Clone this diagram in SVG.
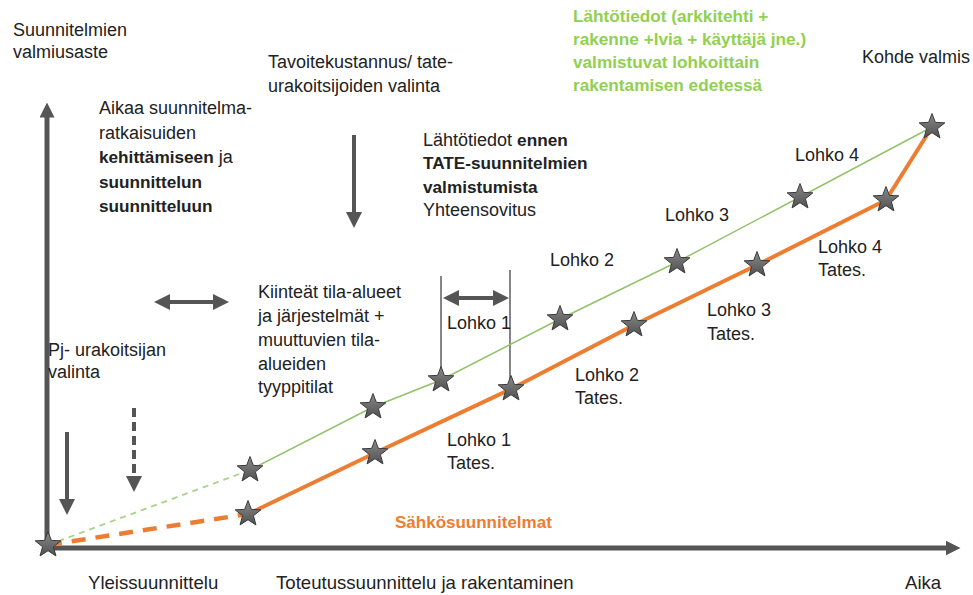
<svg xmlns="http://www.w3.org/2000/svg" width="973" height="595" viewBox="0 0 973 595">
<style>
text{font-family:"Liberation Sans",Arial,sans-serif;font-size:18px;fill:#222}
.b{font-weight:bold;font-size:17.2px}
.g{fill:#92D050;font-weight:bold;font-size:17.2px}
.o{fill:#ED7D31;font-weight:bold;font-size:17px}
.big{font-size:18.6px}
.ax{stroke:#555;stroke-width:5;fill:none}
.ar{stroke:#555;stroke-width:4;fill:none}
.thin{stroke:#444;stroke-width:1.3;fill:none}
</style>
<defs>
<linearGradient id="sg" x1="0" y1="0" x2="0" y2="1">
<stop offset="0" stop-color="#8a8a8a"/><stop offset="1" stop-color="#505050"/>
</linearGradient>
<symbol id="star" overflow="visible">
<polygon points="0,-13.5 3.36,-4.62 12.84,-4.17 5.43,1.77 7.94,10.92 0,5.7 -7.94,10.92 -5.43,1.77 -12.84,-4.17 -3.36,-4.62" fill="url(#sg)" stroke="#3a3a3a" stroke-width="1" stroke-linejoin="round"/>
</symbol>
<marker id="ah" markerWidth="4" markerHeight="4" refX="2" refY="2" orient="auto" markerUnits="strokeWidth" viewBox="0 0 4 4">
<path d="M0,0 L4,2 L0,4 Z" fill="#555"/>
</marker>
<marker id="axh" markerWidth="3" markerHeight="3" refX="1.5" refY="1.5" orient="auto" markerUnits="strokeWidth" viewBox="0 0 3 3">
<path d="M0,0 L3,1.5 L0,3 Z" fill="#555"/>
</marker>
<marker id="ah2" markerWidth="4" markerHeight="4" refX="2" refY="2" orient="auto-start-reverse" markerUnits="strokeWidth" viewBox="0 0 4 4">
<path d="M0,0 L4,2 L0,4 Z" fill="#555"/>
</marker>
</defs>
<rect width="973" height="595" fill="#fff"/>

<g id="connectors">
<path class="ax" d="M47,548 V110" marker-end="url(#axh)"/>
<path class="ax" d="M47,548 H953" marker-end="url(#axh)"/>
<path class="ar" d="M354,135 V220" marker-end="url(#ah)"/>
<path class="ar" stroke-width="3" d="M162,302 H221" marker-start="url(#ah2)" marker-end="url(#ah2)"/>
<path class="ar" d="M67,432 V507" marker-end="url(#ah)"/>
<path class="ar" d="M134,408 V484" stroke-dasharray="9,5" marker-end="url(#ah)"/>
<path class="ar" stroke-width="2.5" d="M451,298 H501" marker-start="url(#ah2)" marker-end="url(#ah2)"/>
<path class="thin" d="M441,276 V380"/>
<path class="thin" d="M510,270 V389"/>
<path d="M48,545 L250,470" stroke="#A9D18E" stroke-width="1.8" stroke-dasharray="6,5" fill="none"/>
<path d="M250,470 L373,407 L441,380 L560,319 L677,262 L800,197 L932,127" stroke="#92C36A" stroke-width="1.5" fill="none"/>
<path d="M48,545 L248,514" stroke="#ED7D31" stroke-width="4.5" stroke-dasharray="14,10" fill="none"/>
<path d="M248,514 L375,453 L511,389 L634,325 L757,265 L886,200 L932,127" stroke="#ED7D31" stroke-width="4" fill="none" stroke-linejoin="round"/>
</g>

<g id="stars">
<use href="#star" x="48" y="545"/>
<use href="#star" x="250" y="470"/>
<use href="#star" x="373" y="407"/>
<use href="#star" x="441" y="380"/>
<use href="#star" x="560" y="319"/>
<use href="#star" x="677" y="262"/>
<use href="#star" x="800" y="197"/>
<use href="#star" x="932" y="127"/>
<use href="#star" x="248" y="514"/>
<use href="#star" x="375" y="453"/>
<use href="#star" x="511" y="389"/>
<use href="#star" x="634" y="325"/>
<use href="#star" x="757" y="265"/>
<use href="#star" x="886" y="200"/>
</g>

<g id="label-yaxis"><text x="13" y="36">Suunnitelmien</text><text x="13" y="58">valmiusaste</text></g>
<g id="label-tavoite"><text x="268" y="68">Tavoitekustannus/ tate-</text><text x="268" y="92">urakoitsijoiden valinta</text></g>
<g id="label-green"><text class="g" x="573" y="22">Lähtötiedot (arkkitehti +</text><text class="g" x="573" y="45">rakenne +lvia + käyttäjä jne.)</text><text class="g" x="573" y="68">valmistuvat lohkoittain</text><text class="g" x="573" y="91">rakentamisen edetessä</text></g>
<g id="label-kohde"><text x="862" y="63">Kohde valmis</text></g>
<g id="label-aikaa"><text x="99" y="114">Aikaa suunnitelma-</text><text x="99" y="139">ratkaisuiden</text><text x="99" y="163"><tspan class="b">kehittämiseen</tspan> ja</text><text class="b" x="99" y="188">suunnittelun</text><text class="b" x="99" y="212">suunnitteluun</text></g>
<g id="label-lahto"><text x="423" y="146">Lähtötiedot <tspan class="b">ennen</tspan></text><text class="b" x="423" y="169">TATE-suunnitelmien</text><text class="b" x="423" y="193">valmistumista</text><text x="423" y="216">Yhteensovitus</text></g>
<g id="label-kiinteat"><text x="258" y="298">Kiinteät tila-alueet</text><text x="258" y="322">ja järjestelmät +</text><text x="258" y="346">muuttuvien tila-</text><text x="258" y="370">alueiden</text><text x="258" y="393">tyyppitilat</text></g>
<g id="label-pj"><text x="48" y="356">Pj- urakoitsijan</text><text x="48" y="378">valinta</text></g>
<g id="label-lohko1"><text x="447" y="329">Lohko 1</text></g>
<g id="label-lohko2"><text x="550" y="266">Lohko 2</text></g>
<g id="label-lohko3"><text x="665" y="221">Lohko 3</text></g>
<g id="label-lohko4"><text x="795" y="161">Lohko 4</text></g>
<g id="label-lohko1t"><text x="447" y="446">Lohko 1</text><text x="447" y="469">Tates.</text></g>
<g id="label-lohko2t"><text x="575" y="381">Lohko 2</text><text x="575" y="404">Tates.</text></g>
<g id="label-lohko3t"><text x="707" y="316">Lohko 3</text><text x="707" y="340">Tates.</text></g>
<g id="label-lohko4t"><text x="818" y="253">Lohko 4</text><text x="818" y="276">Tates.</text></g>
<g id="label-sahko"><text class="o" x="395" y="528">Sähkösuunnitelmat</text></g>
<g id="label-x"><text class="big" x="88" y="589">Yleissuunnittelu</text><text class="big" x="276" y="589">Toteutussuunnittelu ja rakentaminen</text><text class="big" x="905" y="589">Aika</text></g>
</svg>
